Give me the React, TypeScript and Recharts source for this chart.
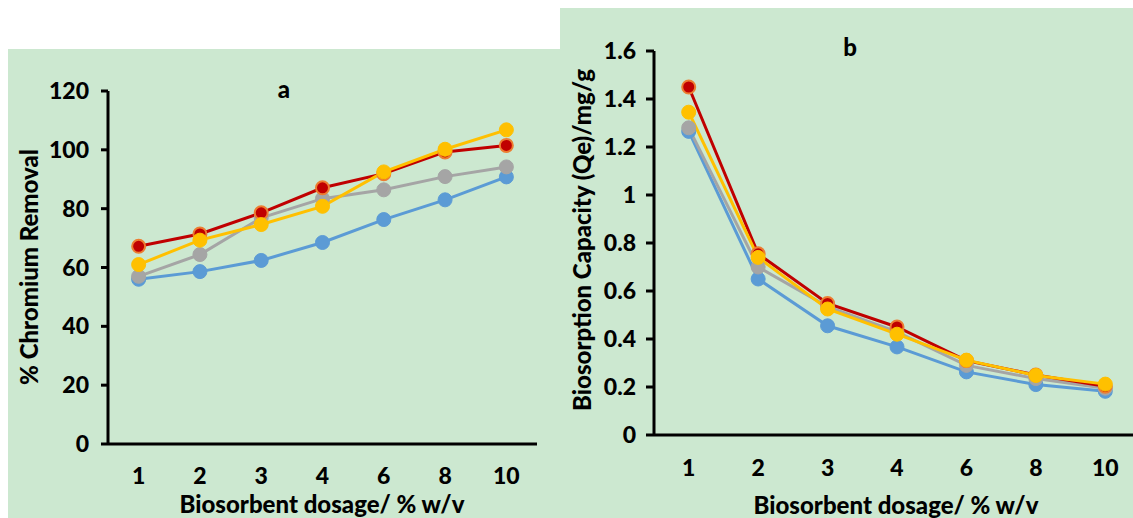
import { LineChart, Line, XAxis, YAxis } from "recharts";

const dosage = ["1", "2", "3", "4", "6", "8", "10"];

// panel a: % chromium removal
const removalBlue = [56, 58.6, 62.4, 68.5, 76.3, 83, 90.8];
const removalGray = [57, 64.4, 76.9, 83.4, 86.4, 90.9, 94.2];
const removalRed = [67.2, 71.4, 78.6, 87.1, 91.9, 99.3, 101.5];
const removalYellow = [61, 69.3, 74.6, 80.8, 92.5, 100.2, 106.8];
const removalTicks = [0, 20, 40, 60, 80, 100, 120];

// panel b: biosorption capacity
const qeBlue = [1.265, 0.65, 0.455, 0.367, 0.263, 0.21, 0.182];
const qeGray = [1.28, 0.7, 0.535, 0.43, 0.29, 0.235, 0.195];
const qeRed = [1.45, 0.755, 0.548, 0.45, 0.31, 0.25, 0.203];
const qeYellow = [1.345, 0.74, 0.525, 0.42, 0.312, 0.248, 0.212];
const qeTicks = [0, 0.2, 0.4, 0.6, 0.8, 1, 1.2, 1.4, 1.6];

const bounds = [0, 1, 2, 3, 4, 5, 6, 7];
const centers = [0.5, 1.5, 2.5, 3.5, 4.5, 5.5, 6.5];

const FONT = 'Lato, "Open Sans", sans-serif';
const BG = "#CCE8D0";

const colors = {
  blue: "#5B9BD5",
  gray: "#A5A5A5",
  red: "#C00000",
  yellow: "#FFC000",
};

function rows(b: number[], g: number[], r: number[], y: number[]) {
  return dosage.map((d, i) => ({
    x: i + 0.5,
    dose: d,
    blue: b[i],
    gray: g[i],
    red: r[i],
    yellow: y[i],
  }));
}

const dataA = rows(removalBlue, removalGray, removalRed, removalYellow);
const dataB = rows(qeBlue, qeGray, qeRed, qeYellow);

const tickStyle = { fontSize: 23, fontWeight: 900, fill: "#000", fontFamily: FONT };
const axisLine = { stroke: "#000", strokeWidth: 3 };

function series() {
  const order: (keyof typeof colors)[] = ["blue", "gray", "red", "yellow"];
  return order.map((k) => (
    <Line
      key={k}
      type="linear"
      dataKey={k}
      stroke={colors[k]}
      strokeWidth={3}
      dot={
        k === "red"
          ? { r: 6.5, fill: colors.red, stroke: "#ED7D31", strokeWidth: 2 }
          : { r: 7, fill: colors[k], stroke: colors[k], strokeWidth: 1 }
      }
      isAnimationActive={false}
    />
  ));
}

function xAxes(labelMargin: number) {
  return [
    <XAxis
      key="b"
      dataKey="x"
      type="number"
      domain={[0, 7]}
      ticks={bounds}
      interval={0}
      tick={false}
      height={1}
      axisLine={axisLine}
      tickLine={axisLine}
      tickSize={8}
    />,
    <XAxis
      key="l"
      xAxisId="lab"
      dataKey="x"
      type="number"
      domain={[0, 7]}
      ticks={centers}
      interval={0}
      height={1}
      axisLine={false}
      tickLine={false}
      tickSize={8}
      tickMargin={labelMargin}
      tick={tickStyle}
      tickFormatter={(v: number) => dosage[Math.round(v - 0.5)]}
    />,
  ];
}

export default function App() {
  return (
    <div
      style={{
        position: "absolute",
        left: 0,
        top: 0,
        width: 1133,
        height: 518,
        overflow: "hidden",
        background: "#fff",
      }}
    >
      <div style={{ position: "absolute", left: 8, top: 49, width: 552, height: 469, background: BG }} />
      <div style={{ position: "absolute", left: 560, top: 8, width: 580, height: 510, background: BG }} />

      {/* a */}
      <div style={{ position: "absolute", left: 0, top: 0 }}>
        <LineChart width={560} height={518} data={dataA} margin={{ top: 91, right: 23, bottom: 72, left: 48 }}>
          {xAxes(15)}
          <YAxis
            width={60}
            domain={[0, 120]}
            ticks={removalTicks}
            interval={0}
            axisLine={axisLine}
            tickLine={axisLine}
            tickSize={7}
            tickMargin={12}
            tick={tickStyle}
          />
          {series()}
        </LineChart>
      </div>

      {/* b */}
      <div style={{ position: "absolute", left: 560, top: 0 }}>
        <LineChart width={580} height={518} data={dataB} margin={{ top: 51, right: 0, bottom: 81, left: 34 }}>
          {xAxes(16)}
          <YAxis
            width={60}
            domain={[0, 1.6]}
            ticks={qeTicks}
            interval={0}
            axisLine={axisLine}
            tickLine={axisLine}
            tickSize={8}
            tickMargin={10}
            tick={tickStyle}
          />
          {series()}
        </LineChart>
      </div>

      <svg
        width={1133}
        height={518}
        style={{ position: "absolute", left: 0, top: 0, pointerEvents: "none" }}
        fontFamily={FONT}
        fontWeight={900}
        fill="#000"
      >
        <text x={284} y={98} fontSize={24} textAnchor="middle">a</text>
        <text x={850} y={56} fontSize={24} textAnchor="middle">b</text>
        <text x={322} y={513} fontSize={24} textAnchor="middle">Biosorbent dosage/ % w/v</text>
        <text x={896} y={514} fontSize={24} textAnchor="middle">Biosorbent dosage/ % w/v</text>
        <text x={38} y={267} fontSize={24} textAnchor="middle" transform="rotate(-90 38 267)">
          % Chromium Removal
        </text>
        <text x={591} y={240} fontSize={24} textAnchor="middle" transform="rotate(-90 591 240)">
          Biosorption Capacity (Qe)/mg/g
        </text>
      </svg>
    </div>
  );
}
